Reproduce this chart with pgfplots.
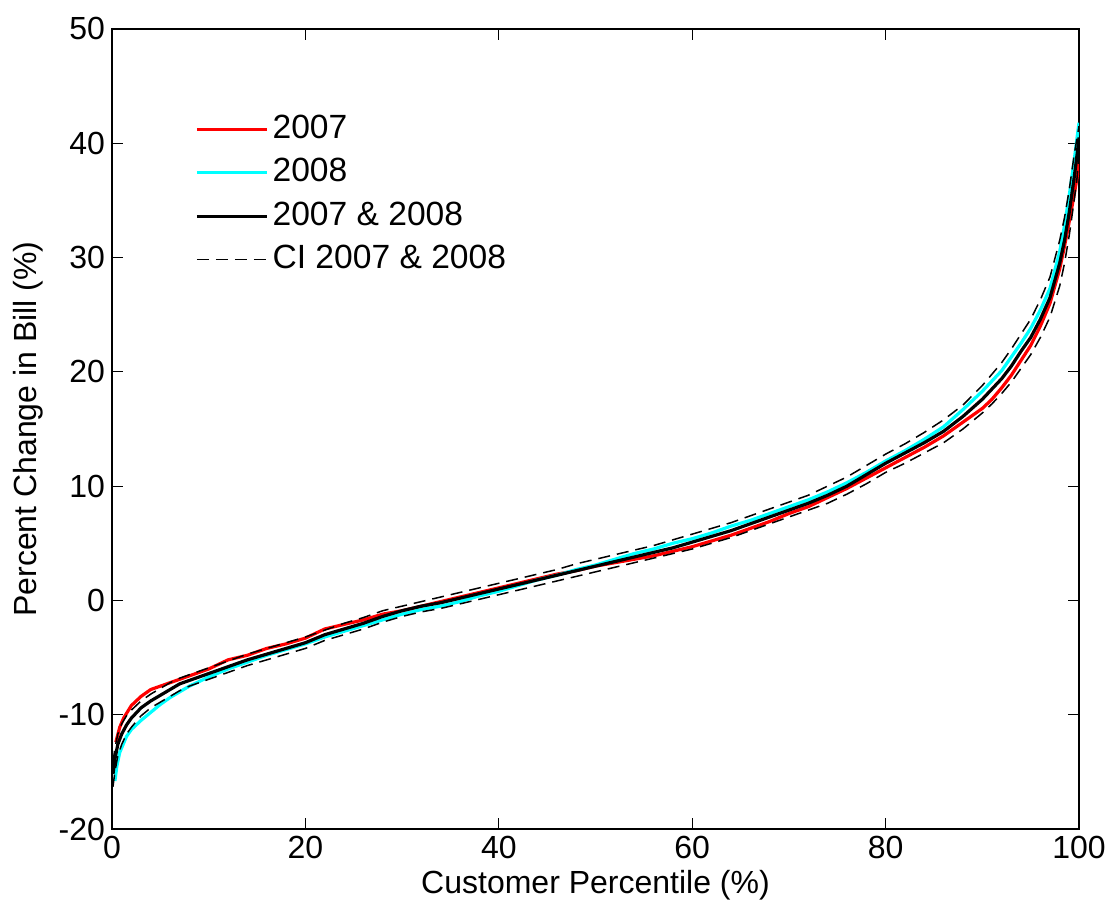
\documentclass[border=0pt]{standalone}
\usepackage{fontspec}
\setmainfont{Liberation Sans}
\usepackage{pgfplots}
\pgfplotsset{compat=1.18}
\definecolor{mred}{RGB}{255,0,0}
\definecolor{mcyan}{RGB}{0,255,255}
\begin{document}
\begin{tikzpicture}[font=\fontsize{16}{19}\selectfont]
\path[use as bounding box] (0,0) rectangle (555.5pt,454pt);
\begin{axis}[
  at={(56pt,39.5pt)}, anchor=south west,
  scale only axis, width=483.5pt, height=400pt,
  xmin=0, xmax=100, ymin=-20, ymax=50,
  xtick={0,20,40,60,80,100}, ytick={-20,-10,0,10,20,30,40,50},
  tick align=inside, xtick pos=both, ytick pos=both,
  major tick length=5.5pt,
  axis line style={line width=0.6pt},
  every tick/.style={black, line width=0.6pt},
  /pgf/number format/assume math mode=true,
  xlabel={Customer Percentile (\%)},
  ylabel={Percent Change in Bill (\%)},
  xlabel style={at={(axis description cs:0.5,-0.0705)}, anchor=center},
  ylabel style={at={(axis description cs:-0.0869,0.5)}, anchor=center},
  legend cell align=left,
  legend style={at={(axis description cs:0.0858,0.894)}, anchor=north west,
    draw=none, fill=none, inner sep=0pt, row sep=6.5pt, column sep=2pt,
    font=\fontsize{16.8}{19}\selectfont,
    nodes={inner sep=0pt, text height=12.2pt, text depth=3pt}},
  legend image code/.code={\draw[#1] (0pt,0pt) -- (35pt,0pt);},
]
\addplot[mred, line width=1.6pt] coordinates {
(0.4,-12.4) (0.8,-11.1) (1.2,-10.3) (2,-9.2) (3,-8.4) (4,-7.8) (5,-7.5) (6,-7.2) (8,-6.6) (10,-6.0) (12,-5.2) (14,-4.8) (16,-4.2) (18,-3.8) (20,-3.3) (22,-2.5) (24,-2.1) (26,-1.7) (28,-1.2) (30,-0.9) (32,-0.5) (34,-0.1) (36,0.3) (38,0.7) (40,1.1) (42,1.5) (44,1.9) (46,2.3) (48,2.6) (50,3.0) (52,3.3) (54,3.6) (56,3.9) (58,4.3) (60,4.7) (62,5.2) (64,5.7) (66,6.3) (68,6.9) (70,7.6) (72,8.2) (74,9.0) (76,9.8) (78,10.7) (80,11.6) (82,12.5) (84,13.4) (86,14.4) (88,15.6) (90,16.8) (91,17.6) (92,18.6) (93,19.7) (94,21.0) (95,22.3) (96,24.0) (97,26.0) (98,29.0) (98.5,31) (99,33.2) (99.5,35.5) (99.8,37) (100,38.5)
};
\addlegendentry{2007}
\addplot[mcyan, line width=1.6pt] coordinates {
(0.3,-15.8) (0.5,-14.5) (0.8,-13.3) (1.5,-11.9) (2,-11.3) (3,-10.5) (4,-9.8) (5,-9.1) (6,-8.5) (7,-8.0) (8,-7.5) (10,-6.7) (12,-6.0) (14,-5.4) (16,-4.8) (18,-4.3) (20,-3.8) (22,-3.2) (24,-2.7) (26,-2.2) (28,-1.7) (30,-1.2) (32,-0.8) (34,-0.5) (36,-0.1) (38,0.4) (40,0.8) (42,1.3) (44,1.8) (46,2.2) (48,2.7) (50,3.1) (52,3.6) (54,4.1) (56,4.5) (58,5.0) (60,5.4) (62,5.9) (64,6.5) (66,7.0) (68,7.6) (70,8.2) (72,8.8) (74,9.5) (76,10.3) (78,11.2) (80,12.2) (82,13.1) (84,14.1) (86,15.2) (88,16.7) (90,18.3) (91,19.2) (92,20.1) (93,21.3) (94,22.5) (95,23.8) (96,25.4) (97,27.3) (98,30.5) (98.5,32.8) (99,35.5) (99.5,38.5) (99.8,40.5) (100,41.8)
};
\addlegendentry{2008}
\addplot[black, line width=1.6pt] coordinates {
(0.1,-15.2) (0.3,-13.9) (0.6,-12.6) (1,-11.7) (1.5,-10.9) (2,-10.3) (3,-9.4) (4,-8.8) (5,-8.3) (6,-7.8) (7,-7.3) (8,-7.0) (10,-6.4) (12,-5.8) (14,-5.2) (16,-4.7) (18,-4.2) (20,-3.7) (22,-3.0) (24,-2.5) (26,-2.0) (28,-1.4) (30,-0.9) (32,-0.5) (34,-0.2) (36,0.2) (38,0.6) (40,1.0) (42,1.4) (44,1.8) (46,2.2) (48,2.6) (50,3.0) (52,3.4) (54,3.8) (56,4.2) (58,4.6) (60,5.1) (62,5.6) (64,6.1) (66,6.7) (68,7.3) (70,7.9) (72,8.5) (74,9.2) (76,10.0) (78,11.0) (80,12.0) (82,12.9) (84,13.8) (86,14.8) (88,16.1) (90,17.6) (91,18.5) (92,19.4) (93,20.5) (94,21.8) (95,23.0) (96,24.6) (97,26.5) (98,29.5) (98.5,31.5) (99,34) (99.5,37) (99.8,39) (100,40.5)
};
\addlegendentry{2007 \& 2008}
\addplot[black, line width=0.75pt, dash pattern=on 6pt off 3.5pt] coordinates {
(0.1,-14.2) (0.3,-12.9) (0.6,-11.7) (1,-10.8) (1.5,-10.1) (2,-9.6) (3,-8.8) (4,-8.2) (5,-7.7) (6,-7.2) (7,-6.8) (8,-6.5) (10,-5.9) (12,-5.3) (14,-4.7) (16,-4.2) (18,-3.7) (20,-3.2) (22,-2.6) (24,-2.0) (26,-1.5) (28,-0.9) (30,-0.5) (32,-0.1) (34,0.3) (36,0.7) (38,1.1) (40,1.5) (42,1.9) (44,2.3) (46,2.7) (48,3.2) (50,3.6) (52,4.0) (54,4.4) (56,4.8) (58,5.3) (60,5.8) (62,6.3) (64,6.8) (66,7.4) (68,8.0) (70,8.6) (72,9.2) (74,10.0) (76,10.8) (78,11.8) (80,12.8) (82,13.7) (84,14.7) (86,15.8) (88,17.1) (90,18.8) (91,19.8) (92,20.8) (93,22.0) (94,23.3) (95,24.6) (96,26.3) (97,28.3) (98,31.5) (98.5,33.5) (99,36) (99.5,39) (99.8,40.5) (100,41.5)
};
\addlegendentry{CI 2007 \& 2008}
\addplot[black, line width=0.75pt, dash pattern=on 6pt off 3.5pt, forget plot] coordinates {
(0.1,-16.3) (0.3,-15.0) (0.6,-13.6) (1,-12.6) (1.5,-11.7) (2,-11.1) (3,-10.1) (4,-9.4) (5,-8.9) (6,-8.4) (7,-7.9) (8,-7.5) (10,-6.9) (12,-6.3) (14,-5.7) (16,-5.2) (18,-4.7) (20,-4.2) (22,-3.5) (24,-3.0) (26,-2.5) (28,-1.9) (30,-1.4) (32,-1.0) (34,-0.7) (36,-0.3) (38,0.1) (40,0.5) (42,0.9) (44,1.3) (46,1.7) (48,2.1) (50,2.5) (52,2.9) (54,3.3) (56,3.7) (58,4.1) (60,4.5) (62,5.0) (64,5.5) (66,6.1) (68,6.7) (70,7.3) (72,7.9) (74,8.5) (76,9.3) (78,10.2) (80,11.2) (82,12.0) (84,12.9) (86,13.8) (88,15.0) (90,16.4) (91,17.2) (92,18.1) (93,19.1) (94,20.3) (95,21.5) (96,23.0) (97,24.8) (98,27.5) (98.5,29.5) (99,32) (99.5,35) (99.8,37) (100,39)
};
\end{axis}
\end{tikzpicture}
\end{document}
